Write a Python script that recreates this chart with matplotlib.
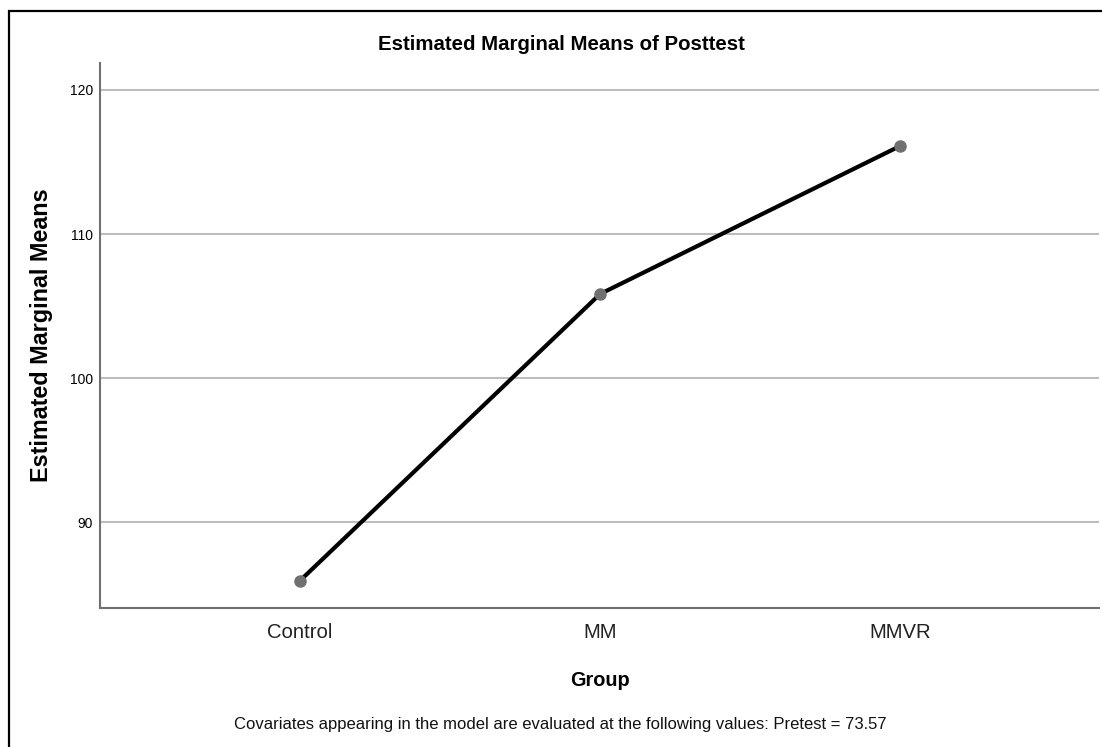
import matplotlib
matplotlib.use("Agg")
import matplotlib.pyplot as plt
from matplotlib.patches import Rectangle

# ---- data ----
groups = ["Control", "MM", "MMVR"]
means = [85.95, 105.84, 116.11]
y_ticks = [90, 100, 110, 120]
title = "Estimated Marginal Means of Posttest"
ylabel = "Estimated Marginal Means"
xlabel = "Group"
footnote = "Covariates appearing in the model are evaluated at the following values: Pretest = 73.57"

plt.rcParams["font.family"] = ["Liberation Sans", "DejaVu Sans"]

W, H = 1102, 747
fig = plt.figure(figsize=(W / 100, H / 100), dpi=100)

# outer frame (left and top visible, extends past right/bottom edge)
fig.patches.append(Rectangle((8.5 / W, -0.05), 1.2, 1 - 11 / H + 0.05,
                             transform=fig.transFigure, fill=False,
                             edgecolor="black", linewidth=1.6))

ax = fig.add_axes([100 / W, 1 - 607.7 / H, (1099 - 100) / W, (607.7 - 63) / H])
x = list(range(len(groups)))
ax.plot(x, means, color="black", linewidth=3.0, marker="o", markersize=8,
        markerfacecolor="#707070", markeredgecolor="#707070", zorder=3,
        solid_capstyle="round")

ax.set_xlim(-0.667, 2.663)
ax.set_ylim(84.07, 121.87)
ax.set_yticks(y_ticks)
ax.set_yticklabels([str(v) for v in y_ticks], fontsize=10)
ax.set_xticks(x)
ax.set_xticklabels(groups, fontsize=14.6, color="#222222")
ax.tick_params(axis="both", length=0)
ax.tick_params(axis="y", pad=5)
ax.tick_params(axis="x", pad=11)
ax.grid(axis="y", color="#bdbdbd", linewidth=1.5)
ax.set_axisbelow(True)
for s in ["top", "right"]:
    ax.spines[s].set_visible(False)
for s in ["left", "bottom"]:
    ax.spines[s].set_color("#707070")
    ax.spines[s].set_linewidth(1.5)

fig.text(561 / W, 1 - 45 / H, title, ha="center", va="center",
         fontsize=14.7, fontweight="bold")
fig.text(42 / W, 1 - 335 / H, ylabel, ha="center", va="center", rotation=90,
         fontsize=16.8, fontweight="bold")
fig.text(600 / W, 1 - 680 / H, xlabel, ha="center", va="center",
         fontsize=14.3, fontweight="bold")
fig.text(560 / W, 1 - 725 / H, footnote, ha="center", va="center",
         fontsize=12, color="#111111")

fig.savefig("out.png", dpi=100)
